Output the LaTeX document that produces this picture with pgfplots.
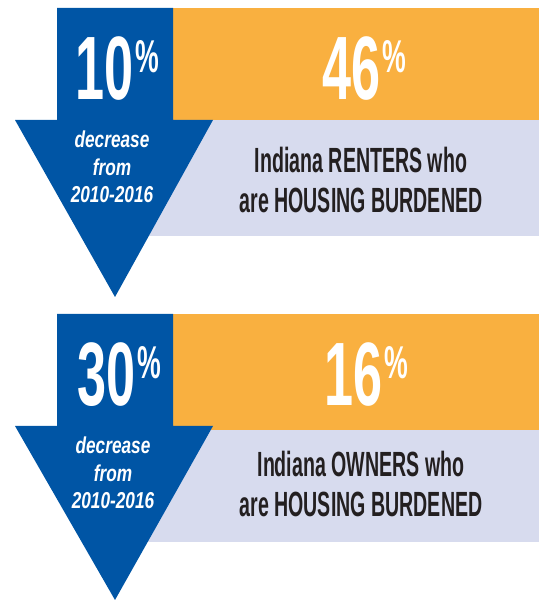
\documentclass[border=0pt]{standalone}
\usepackage{pgfplots}
\pgfplotsset{compat=1.18}
\usepackage{fontspec}
\setmainfont{Liberation Sans}
\newfontfamily\cond[FakeStretch=0.58]{Liberation Sans}
\newfontfamily\condlbl[FakeStretch=0.56]{Liberation Sans}
\newfontfamily\condit[FakeStretch=0.75]{Liberation Sans}
\definecolor{ablue}{HTML}{0055A5}
\definecolor{aorange}{HTML}{F9B040}
\definecolor{alav}{HTML}{D7DBEE}
\definecolor{atext}{HTML}{231F20}
\newcommand{\bignum}[1]{{\cond\bfseries\fontsize{90}{90}\selectfont #1}\hspace{2pt}\raisebox{27pt}{\cond\bfseries\fontsize{46}{46}\selectfont\%}}
\newcommand{\itl}[1]{{\condit\bfseries\itshape\fontsize{23}{27}\selectfont #1}}
\newcommand{\lbl}[1]{{\condlbl\bfseries\fontsize{35}{40}\selectfont #1}}
\begin{document}
\begin{tikzpicture}
\begin{axis}[width=539pt,height=601pt,scale only axis,
  xmin=0,xmax=539,ymin=0,ymax=601,hide axis,clip=false]
% frame of the whole picture (invisible)
\addplot[draw=none,forget plot] coordinates {(0,0)(539,601)};
% ---- top panel ----
\addplot[draw=none,fill=alav] coordinates {(140,365)(539,365)(539,481)(140,481)} -- cycle;
\addplot[draw=none,fill=aorange] coordinates {(173,481)(539,481)(539,593)(173,593)} -- cycle;
\addplot[draw=none,fill=ablue] coordinates {(57,593)(173,593)(173,481)(213,481)(115,304)(15,481)(57,481)} -- cycle;
% ---- bottom panel ----
\addplot[draw=none,fill=alav] coordinates {(140,59)(539,59)(539,171)(140,171)} -- cycle;
\addplot[draw=none,fill=aorange] coordinates {(173,171)(539,171)(539,287)(173,287)} -- cycle;
\addplot[draw=none,fill=ablue] coordinates {(57,287)(173,287)(173,175)(213,175)(115,1)(15,175)(57,175)} -- cycle;
% ---- texts top ----
\node[anchor=base,inner sep=0,text=white] at (axis cs:117,501) {\bignum{10}};
\node[anchor=base,inner sep=0,text=white] at (axis cs:364,501) {\bignum{46}};
\node[anchor=base,inner sep=0,text=white] at (axis cs:112,453) {\itl{decrease}};
\node[anchor=base,inner sep=0,text=white] at (axis cs:112,425) {\itl{from}};
\node[anchor=base,inner sep=0,text=white] at (axis cs:112,398) {\itl{2010-2016}};
\node[anchor=base,inner sep=0,text=atext] at (axis cs:361,428) {\lbl{Indiana RENTERS who}};
\node[anchor=base,inner sep=0,text=atext] at (axis cs:361,388) {\lbl{are HOUSING BURDENED}};
% ---- texts bottom ----
\node[anchor=base,inner sep=0,text=white] at (axis cs:119,195) {\bignum{30}};
\node[anchor=base,inner sep=0,text=white] at (axis cs:366,195) {\bignum{16}};
\node[anchor=base,inner sep=0,text=white] at (axis cs:113,147) {\itl{decrease}};
\node[anchor=base,inner sep=0,text=white] at (axis cs:113,119) {\itl{from}};
\node[anchor=base,inner sep=0,text=white] at (axis cs:113,92) {\itl{2010-2016}};
\node[anchor=base,inner sep=0,text=atext] at (axis cs:361,124) {\lbl{Indiana OWNERS who}};
\node[anchor=base,inner sep=0,text=atext] at (axis cs:361,84) {\lbl{are HOUSING BURDENED}};
\end{axis}
\end{tikzpicture}
\end{document}
